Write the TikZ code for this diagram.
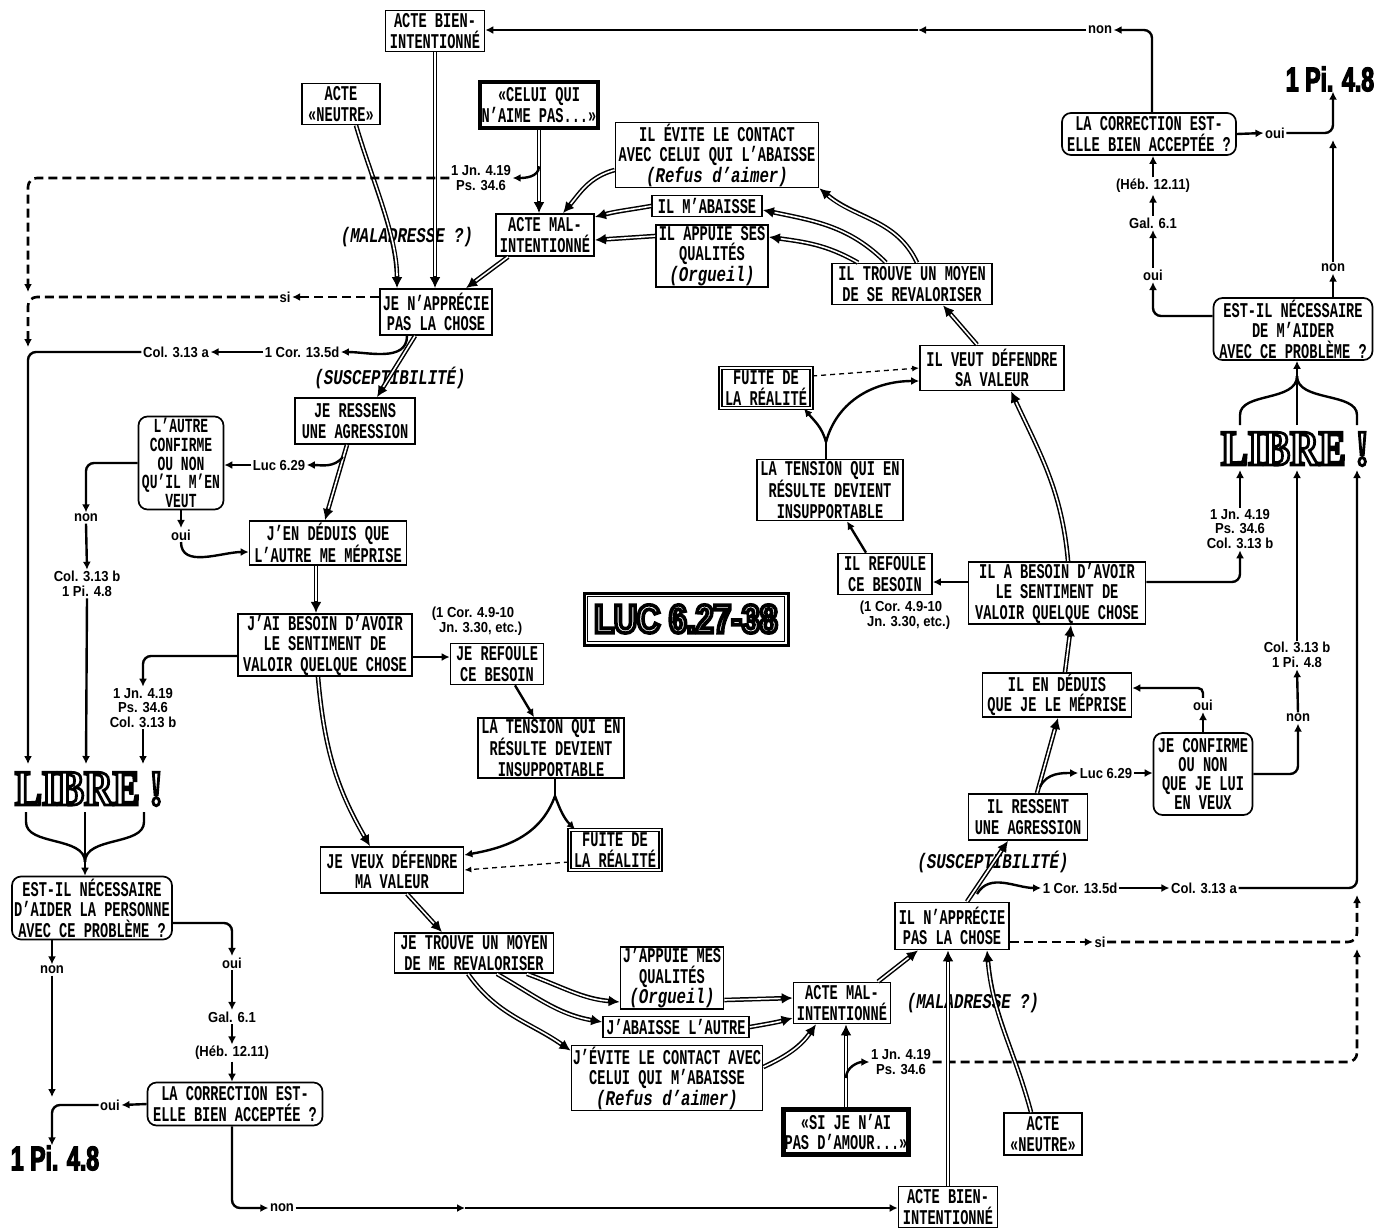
\documentclass[tikz,border=0pt]{standalone}
\usepackage{fontspec}
\usetikzlibrary{arrows.meta}
\newfontfamily\boxfont{Liberation Mono}[FakeStretch=0.65]
\newfontfamily\italfont{Liberation Mono}[FakeStretch=0.75]
\newfontfamily\smallref{Liberation Sans}[FakeStretch=0.9]
\newfontfamily\librefont{Liberation Serif}[FakeStretch=0.8]
\newfontfamily\lucfont{Liberation Sans}[FakeStretch=0.8]
\newfontfamily\bigpifont{Liberation Sans}[FakeStretch=0.68]
\newcommand\myit[1]{{\italfont\bfseries\itshape #1}}
\newcommand\strk[2]{\special{pdf:literal direct #1 w 0 G 2 Tr}#2\special{pdf:literal direct 0 Tr}}
\begin{document}
\begin{tikzpicture}[x=1pt,y=1pt,
 box/.style={draw, line width=1.7pt, inner sep=1pt, align=center, fill=white, font=\boxfont\bfseries\fontsize{21}{20.5}\selectfont},
 rbox/.style={box, rounded corners=9pt},
 tbox/.style={box, line width=4.5pt},
 dbox/.style={box, double, double distance=1.8pt, line width=1.2pt},
 sz/.style 2 args={minimum width=#1pt, minimum height=#2pt},
 lab/.style={inner sep=1.5pt, align=center, font=\smallref\bfseries\fontsize{14.5}{14.5}\selectfont},
 ital/.style={inner sep=1pt, font=\italfont\bfseries\itshape\fontsize{21}{21}\selectfont},
 sarr/.style={line width=2.4pt, -{Latex[length=8pt,width=8pt]}, rounded corners=8pt},
 dbl/.style={line width=4.6pt, -{Latex[length=11pt,width=11pt]}, postaction={draw=white, line width=1.6pt, -, shorten >=12pt}},
 dsh/.style={line width=2.6pt, dash pattern=on 9pt off 5pt, -{Latex[length=8pt,width=8pt]}, rounded corners=9pt},
 tdsh/.style={line width=1.3pt, dash pattern=on 5pt off 4pt, -{Latex[length=7pt,width=6pt]}},
 libre/.style={inner sep=0pt, font=\librefont\bfseries\fontsize{50}{50}\selectfont},
 luc/.style={inner sep=0pt, font=\lucfont\bfseries\fontsize{40}{40}\selectfont},
 pi/.style={inner sep=0pt, font=\bigpifont\bfseries\fontsize{34}{34}\selectfont},
 plain/.style={line width=2.4pt}
]
\useasboundingbox (0,0) rectangle (1374,-1227);

% ---------------- nodes ----------------
\node[box,sz={99}{41}] (abT) at (435,-31) {ACTE BIEN-\\INTENTIONNÉ};
\node[box,sz={78}{41}] (anT) at (341,-104) {ACTE\\«NEUTRE»};
\node[tbox,sz={118}{46}] (celui) at (539,-105) {«CELUI QUI\\N’AIME PAS...»};
\node[box,sz={203}{64}] (evite) at (717,-155) {IL ÉVITE LE CONTACT\\AVEC CELUI QUI L’ABAISSE\\\myit{(Refus d’aimer)}};
\node[box,sz={110}{21}] (mabaisse) at (707,-206) {IL M’ABAISSE};
\node[box,sz={112}{60}] (appuie) at (712,-256) {IL APPUIE SES\\QUALITÉS\\\myit{(Orgueil)}};
\node[box,sz={98}{42}] (amT) at (545,-235) {ACTE MAL-\\INTENTIONNÉ};
\node[box,sz={112}{46}] (napT) at (436,-312) {JE N’APPRÉCIE\\PAS LA CHOSE};
\node[box,sz={160}{41}] (trouve) at (912,-284) {IL TROUVE UN MOYEN\\DE SE REVALORISER};
\node[box,sz={144}{45}] (veutD) at (992,-368) {IL VEUT DÉFENDRE\\SA VALEUR};
\node[dbox,sz={91}{40}] (fuiteT) at (766,-388) {FUITE DE\\LA RÉALITÉ};
\node[box,sz={146}{61}] (tensionR) at (830,-490) {LA TENSION QUI EN\\RÉSULTE DEVIENT\\INSUPPORTABLE};
\node[box,sz={94}{41}] (refouleR) at (885,-574) {IL REFOULE\\CE BESOIN};
\node[lab,align=left] (refR) at (905,-615) {(1 Cor. 4.9-10\\\ \ Jn. 3.30, etc.)};
\node[box,sz={177}{62}] (besoinR) at (1057,-593) {IL A BESOIN D’AVOIR\\LE SENTIMENT DE\\VALOIR QUELQUE CHOSE};
\node[box,sz={149}{44}] (deduisR) at (1057,-695) {IL EN DÉDUIS\\QUE JE LE MÉPRISE};
\node[rbox,sz={99}{82},font=\boxfont\bfseries\fontsize{21}{19}\selectfont] (confirme) at (1203,-774) {JE CONFIRME\\OU NON\\QUE JE LUI\\EN VEUX};
\node[box,sz={119}{46}] (ressentR) at (1028,-817) {IL RESSENT\\UNE AGRESSION};
\node[box,sz={114}{47}] (napB) at (952,-926) {IL N’APPRÉCIE\\PAS LA CHOSE};
\node[box,sz={97}{41}] (amB) at (842,-1003) {ACTE MAL-\\INTENTIONNÉ};
\node[tbox,sz={123}{45}] (sijenai) at (846,-1132) {«SI JE N’AI\\PAS D’AMOUR...»};
\node[box,sz={78}{42}] (anB) at (1043,-1134) {ACTE\\«NEUTRE»};
\node[box,sz={99}{41}] (abB) at (948,-1207) {ACTE BIEN-\\INTENTIONNÉ};
\node[box,sz={103}{60}] (jappuie) at (672,-978) {J’APPUIE MES\\QUALITÉS\\\myit{(Orgueil)}};
\node[box,sz={146}{21}] (jabaisse) at (676,-1027) {J’ABAISSE L’AUTRE};
\node[box,sz={191}{65}] (jevite) at (667,-1078) {J’ÉVITE LE CONTACT AVEC\\CELUI QUI M’ABAISSE\\\myit{(Refus d’aimer)}};
\node[box,sz={159}{40}] (jetrouve) at (474,-953) {JE TROUVE UN MOYEN\\DE ME REVALORISER};
\node[box,sz={143}{46}] (jeveux) at (392,-870) {JE VEUX DÉFENDRE\\MA VALEUR};
\node[dbox,sz={91}{40}] (fuiteB) at (615,-850) {FUITE DE\\LA RÉALITÉ};
\node[box,sz={146}{60}] (tensionL) at (551,-748) {LA TENSION QUI EN\\RÉSULTE DEVIENT\\INSUPPORTABLE};
\node[box,sz={93}{41}] (refouleL) at (497,-664) {JE REFOULE\\CE BESOIN};
\node[lab,align=left] (refL) at (477,-621) {(1 Cor. 4.9-10\\\ \ Jn. 3.30, etc.)};
\node[box,sz={174}{62}] (besoinL) at (325,-645) {J’AI BESOIN D’AVOIR\\LE SENTIMENT DE\\VALOIR QUELQUE CHOSE};
\node[box,sz={157}{44}] (deduisL) at (328,-543) {J’EN DÉDUIS QUE\\L’AUTRE ME MÉPRISE};
\node[box,sz={120}{46}] (ressensL) at (355,-421) {JE RESSENS\\UNE AGRESSION};
\node[rbox,sz={85}{93},font=\boxfont\bfseries\fontsize{20}{18.6}\selectfont] (autre) at (181,-463) {L’AUTRE\\CONFIRME\\OU NON\\QU’IL M’EN\\VEUT};
\node[rbox,sz={160}{63}] (estL) at (92,-908) {EST-IL NÉCESSAIRE\\D’AIDER LA PERSONNE\\AVEC CE PROBLÈME ?};
\node[rbox,sz={175}{43}] (corrL) at (235,-1104) {LA CORRECTION EST-\\ELLE BIEN ACCEPTÉE ?};
\node[rbox,sz={159}{62}] (estR) at (1293,-329) {EST-IL NÉCESSAIRE\\DE M’AIDER\\AVEC CE PROBLÈME ?};
\node[rbox,sz={174}{42}] (corrR) at (1149,-134) {LA CORRECTION EST-\\ELLE BIEN ACCEPTÉE ?};

% title
\node[draw, line width=3pt, minimum width=204pt, minimum height=52pt, inner sep=0pt] (title) at (686,-619) {};
\draw[line width=1.2pt] ([shift={(5pt,5pt)}]title.south west) rectangle ([shift={(-5pt,-5pt)}]title.north east);
\node[luc, text=white] (luctext) at (686,-619) {\strk{3.6}{LUC 6.27-38}};

% LIBRE
\node[libre, text=white] (libreL) at (89,-789) {\strk{2.8}{LIBRE !}};
\node[libre, text=white] (libreR) at (1295,-449) {\strk{2.8}{LIBRE !}};

% 1 Pi. 4.8
\node[pi] (piL) at (55,-1158) {\strk{1.2}{1 Pi. 4.8}};
\node[pi] (piR) at (1330,-79) {\strk{1.2}{1 Pi. 4.8}};

% labels
\node[lab] (jnT) at (481,-178) {1 Jn. 4.19\\Ps. 34.6};
\node[ital] (malT) at (407,-237) {(MALADRESSE ?)};
\node[lab] (siT) at (285,-297) {si};
\node[lab] (corT) at (302,-352) {1 Cor. 13.5d};
\node[lab] (colT) at (176,-352) {Col. 3.13 a};
\node[ital] (suscT) at (390,-378) {(SUSCEPTIBILITÉ)};
\node[lab] (lucL) at (279,-465) {Luc 6.29};
\node[lab] (nonL1) at (86,-518) {non};
\node[lab] (ouiL1) at (181,-535) {oui};
\node[lab] (colL) at (87,-584) {Col. 3.13 b\\1 Pi. 4.8};
\node[lab] (jnL) at (143,-708) {1 Jn. 4.19\\Ps. 34.6\\Col. 3.13 b};
\node[lab] (nonL2) at (52,-970) {non};
\node[lab] (ouiL2) at (232,-963) {oui};
\node[lab] (galL) at (232,-1017) {Gal. 6.1};
\node[lab] (hebL) at (232,-1053) {(Héb. 12.11)};
\node[lab] (ouiL3) at (110,-1105) {oui};
\node[lab] (nonL3) at (282,-1208) {non};
\node[ital] (malB) at (973,-1003) {(MALADRESSE ?)};
\node[lab] (jnB) at (901,-1062) {1 Jn. 4.19\\Ps. 34.6};
\node[lab] (siB) at (1100,-942) {si};
\node[lab] (corB) at (1080,-888) {1 Cor. 13.5d};
\node[lab] (colB) at (1204,-888) {Col. 3.13 a};
\node[ital] (suscB) at (993,-862) {(SUSCEPTIBILITÉ)};
\node[lab] (lucR) at (1106,-773) {Luc 6.29};
\node[lab] (ouiR1) at (1203,-705) {oui};
\node[lab] (nonR1) at (1298,-718) {non};
\node[lab] (colR) at (1297,-655) {Col. 3.13 b\\1 Pi. 4.8};
\node[lab] (jnR) at (1240,-529) {1 Jn. 4.19\\Ps. 34.6\\Col. 3.13 b};
\node[lab] (ouiR2) at (1153,-275) {oui};
\node[lab] (galR) at (1153,-223) {Gal. 6.1};
\node[lab] (hebR) at (1153,-186) {(Héb. 12.11)};
\node[lab] (ouiR3) at (1275,-133) {oui};
\node[lab] (nonR2) at (1333,-268) {non};
\node[lab] (nonT) at (1100,-30) {non};

% coordinates
\coordinate (lL1) at (28,-764);
\coordinate (lL2) at (86,-764);
\coordinate (lL3) at (143,-764);
\coordinate (lR1) at (1240,-470);
\coordinate (lR2) at (1297,-470);
\coordinate (lR3) at (1357,-470);
\coordinate (jd1) at (28,-292);
\coordinate (jd2) at (28,-347);
\coordinate (rd1) at (1357,-895);
\coordinate (rd2) at (1357,-949);
\coordinate (brL) at (343,-457);
\coordinate (brR) at (1040,-787);
\coordinate (brB) at (977,-894);
\coordinate (brS) at (846,-1078);
\coordinate (fkR) at (826,-442);
\coordinate (fkL) at (555,-796);
\coordinate (mT) at (918,-30);
\coordinate (mB) at (465,-1208);
\coordinate (jl) at (52,-1097);
\coordinate (nR) at (1333,-140);
\coordinate (fa) at (26,-812);
\coordinate (fb) at (85,-812);
\coordinate (fc) at (144,-812);
\coordinate (ga) at (1240,-425);
\coordinate (gb) at (1297,-425);
\coordinate (gc) at (1357,-425);

% ---------------- connectors: top-left ----------------
\draw[dbl] (abT.south) -- (abT.south |- napT.north);
\draw[dbl] ([xshift=15pt]anT.south) .. controls (372,-180) and (397,-235) .. ([xshift=-39pt]napT.north);
\draw[dbl] (celui.south) -- (celui.south |- amT.north);
\draw[sarr] ([yshift=-36pt]celui.south) to[out=-90,in=0] (jnT.east);
\draw[dsh] (jnT.west) -| (jd1);
\draw[dsh] ([yshift=15pt]napT.west) -- (siT.east);
\draw[dsh] (siT.west) -| (jd2);
\draw[sarr] ([xshift=-29pt]napT.south) to[out=-90,in=0] (corT.east);
\draw[sarr] (corT.west) -- (colT.east);
\draw[sarr] (colT.west) -| (lL1);
\draw[dbl] ([xshift=-21pt]napT.south) -- ([xshift=22pt]ressensL.north);
\draw[dbl] ([xshift=-37pt]amT.south) -- ([xshift=30pt]napT.north);
\draw[dbl] ([yshift=-15pt]evite.west) to[out=195,in=50] ([xshift=18pt]amT.north);
\draw[dbl] (mabaisse.west) to[out=190,in=15] ([yshift=18pt]amT.east);
\draw[dbl] ([yshift=20pt]appuie.west) -- ([yshift=-5pt]amT.east);
\draw[dbl] ([xshift=5pt]trouve.north) to[out=115,in=-40] (evite.south east);
\draw[dbl] ([xshift=-26pt]trouve.north) to[out=135,in=-12] ([yshift=-4pt]mabaisse.east);
\draw[dbl] ([xshift=-54pt]trouve.north) to[out=150,in=-8] ([yshift=19pt]appuie.east);
\draw[dbl] ([xshift=-15pt]veutD.north) -- ([xshift=31pt]trouve.south);
\draw[dbl] ([xshift=11pt]besoinR.north) to[out=95,in=-65] ([xshift=19pt]veutD.south);
\draw[tdsh] ([yshift=12pt]fuiteT.east) -- (veutD.west);
\draw[plain] (tensionR.north -| fkR) -- (fkR);
\draw[sarr] (fkR) to[out=105,in=-50] ([xshift=38pt]fuiteT.south);
\draw[sarr] (fkR) to[out=75,in=180] ([yshift=-13pt]veutD.west);
\draw[sarr] ([xshift=-19pt]refouleR.north) -- ([xshift=17pt]tensionR.south);
\draw[sarr] ([yshift=11pt]besoinR.west) -- ([yshift=11pt]besoinR.west -| refouleR.east);
\draw[sarr] ([yshift=11pt]besoinR.east) -| (jnR.south);
\draw[sarr] (jnR.north) -- (lR1);
\draw[dbl] ([xshift=8pt]deduisR.north) -- ([xshift=14pt]besoinR.south);
\draw[dbl] ([xshift=9pt]ressentR.north) -- ([xshift=1pt]deduisR.south);
\draw[sarr] (brR) to[out=65,in=180] (lucR.west);
\draw[sarr] (lucR.east) -- (lucR.east -| confirme.west);
\draw[sarr] (confirme.north) -- (ouiR1.south);
\draw[sarr, rounded corners=5pt] (ouiR1.north) |- ([yshift=7pt]deduisR.east);
\draw[sarr] (confirme.east) -| (nonR1.south);
\draw[sarr] (nonR1.north) -- (colR.south);
\draw[sarr] (colR.north) -- (lR2);

% ---------------- bottom-right ----------------
\draw[dbl] ([xshift=15pt]napB.north) -- ([xshift=-20pt]ressentR.south);
\draw[sarr] (brB) to[out=60,in=180] (corB.west);
\draw[sarr] (corB.east) -- (colB.west);
\draw[sarr] (colB.east) -| (lR3);
\draw[dsh] ([yshift=-16pt]napB.east) -- (siB.west);
\draw[dsh] (siB.east) -| (rd1);
\draw[dsh] (jnB.east) -| (rd2);
\draw[dbl] (sijenai.north) -- (sijenai.north |- amB.south);
\draw[sarr] (brS) to[out=90,in=180] (jnB.west);
\draw[dbl] ([xshift=36pt]amB.north) -- ([xshift=-34pt]napB.south);
\draw[dbl] (abB.north) -- (abB.north |- napB.south);
\draw[dbl] ([xshift=-12pt]anB.north) to[out=105,in=-85] ([xshift=35pt]napB.south);
\draw[dbl] ([yshift=-22pt]jappuie.east) -- ([yshift=5pt]amB.west);
\draw[dbl] (jabaisse.east) to[out=10,in=195] ([yshift=-15pt]amB.west);
\draw[dbl] ([yshift=11pt]jevite.east) to[out=25,in=-125] ([xshift=-26pt]amB.south);
\draw[dbl] ([xshift=53pt]jetrouve.south) to[out=-20,in=175] ([yshift=-24pt]jappuie.west);
\draw[dbl] ([xshift=23pt]jetrouve.south) to[out=-30,in=170] ([yshift=5pt]jabaisse.west);
\draw[dbl] ([xshift=-6pt]jetrouve.south) to[out=-55,in=145] ([yshift=-6pt]jevite.north west);

% ---------------- left middle ----------------
\draw[dbl] ([xshift=15pt]jeveux.south) -- ([xshift=-32pt]jetrouve.north);
\draw[dbl] ([xshift=-7pt]besoinL.south) to[out=-85,in=120] ([xshift=-22pt]jeveux.north);
\draw[tdsh] ([yshift=-12pt]fuiteB.west) -- (jeveux.east);
\draw[plain] ([xshift=4pt]tensionL.south) -- (fkL);
\draw[sarr] (fkL) to[out=-110,in=10] ([yshift=15pt]jeveux.east);
\draw[sarr] (fkL) to[out=-70,in=135] ([xshift=-40pt]fuiteB.north);
\draw[sarr] ([xshift=18pt]refouleL.south) -- ([xshift=-17pt]tensionL.north);
\draw[sarr] ([yshift=-12pt]besoinL.east) -- ([yshift=-12pt]besoinL.east -| refouleL.west);
\draw[sarr] ([yshift=-11pt]besoinL.west) -| (jnL.north);
\draw[sarr] (jnL.south) -- (lL3);
\draw[dbl] ([xshift=-12pt]deduisL.south) -- ([xshift=-9pt]besoinL.north);
\draw[dbl] ([xshift=-8pt]ressensL.south) -- ([xshift=-3pt]deduisL.north);
\draw[sarr] (brL) to[out=230,in=0] (lucL.east);
\draw[sarr] (lucL.west) -- (lucL.west -| autre.east);
\draw[sarr] (autre.south) -- (ouiL1.north);
\draw[sarr] (ouiL1.south) to[out=-90,in=180] ([yshift=-9pt]deduisL.west);
\draw[sarr] (autre.west) -| (nonL1.north);
\draw[sarr] (nonL1.south) -- (colL.north);
\draw[sarr] (colL.south) -- (lL2);

% ---------------- LIBRE forks ----------------
\draw[plain] (fa) -- ++(0,-10) .. controls (26,-846) and (85,-836) .. (85,-862);
\draw[plain] (fc) -- ++(0,-10) .. controls (144,-846) and (85,-836) .. (85,-862);
\draw[sarr] (fb) -- (fb |- estL.north);
\draw[plain] (ga) -- ++(0,10) .. controls (1240,-392) and (1297,-402) .. (1297,-376);
\draw[plain] (gc) -- ++(0,10) .. controls (1357,-392) and (1297,-402) .. (1297,-376);
\draw[sarr] (gb) -- (gb |- estR.south);

% ---------------- bottom-left ----------------
\draw[sarr] (estL.south -| nonL2) -- (nonL2.north);
\draw[sarr] (nonL2.south) -- (jl);
\draw[sarr] (corrL.west) -- (ouiL3.east);
\draw[sarr] (ouiL3.west) -| ([xshift=-3pt]piL.north);
\draw[sarr] ([yshift=-15pt]estL.east) -| (ouiL2.north);
\draw[sarr] (ouiL2.south) -- (galL.north);
\draw[sarr] (galL.south) -- (hebL.north);
\draw[sarr] (hebL.south) -- (hebL.south |- corrL.north);
\draw[sarr] ([xshift=-3pt]corrL.south) |- (nonL3.west);
\draw[sarr] (nonL3.east) -- (mB);
\draw[sarr] (mB) -- (mB -| abB.west);

% ---------------- top-right ----------------
\draw[sarr] ([yshift=13pt]estR.west) -| (ouiR2.south);
\draw[sarr] (ouiR2.north) -- (galR.south);
\draw[sarr] (galR.north) -- (hebR.south);
\draw[sarr] (hebR.north) -- (hebR.north |- corrR.south);
\draw[sarr] (corrR.east) -- (ouiR3.west);
\draw[sarr] (ouiR3.east) -| ([xshift=3pt]piR.south);
\draw[sarr] ([xshift=40pt]estR.north) -- (nonR2.south);
\draw[sarr] (nonR2.north) -- (nR);
\draw[sarr] ([xshift=3pt]corrR.north) |- (nonT.east);
\draw[sarr] (nonT.west) -- (mT);
\draw[sarr] (mT) -- (mT -| abT.east);
\end{tikzpicture}
\end{document}
